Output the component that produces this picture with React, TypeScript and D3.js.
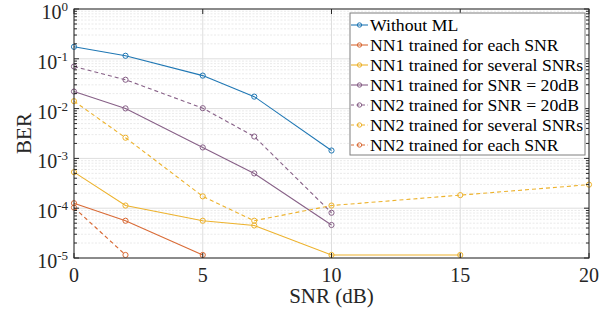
import React, { useEffect, useRef } from 'react';
import * as d3 from 'd3';

const snr = [0, 2, 5, 7, 10, 15, 20];

const withoutML = [0.174, 0.115, 0.046, 0.0174, 0.00144];
const nn1Each = [1.26e-4, 5.6e-5, 1.15e-5];
const nn1Several = [5.3e-4, 1.13e-4, 5.6e-5, 4.5e-5, 1.15e-5, 1.15e-5];
const nn1At20 = [0.022, 0.0101, 0.00166, 5.0e-4, 4.6e-5];
const nn2At20 = [0.07, 0.038, 0.0102, 0.00275, 8.1e-5];
const nn2Several = [0.0141, 0.0026, 1.73e-4, 5.6e-5, 1.13e-4, 1.83e-4, 2.97e-4];
const nn2Each = [1.03e-4, 1.15e-5];

const seriesNames = [
  'Without ML',
  'NN1 trained for each SNR',
  'NN1 trained for several SNRs',
  'NN1 trained for SNR = 20dB',
  'NN2 trained for SNR = 20dB',
  'NN2 trained for several SNRs',
  'NN2 trained for each SNR',
];
const seriesValues = [withoutML, nn1Each, nn1Several, nn1At20, nn2At20, nn2Several, nn2Each];
const seriesColors = ['#1f77b4', '#d96a35', '#edb22c', '#876087', '#876087', '#edb22c', '#d96a35'];
const seriesDashed = [false, false, false, false, true, true, true];

const xTicks = [0, 5, 10, 15, 20];
const yExps = [0, -1, -2, -3, -4, -5];

const W = 615;
const H = 313;
const FONT = "'Liberation Serif', 'Times New Roman', 'DejaVu Serif', serif";

export default function App() {
  const ref = useRef<SVGSVGElement>(null);

  useEffect(() => {
    const svg = d3.select(ref.current);
    svg.selectAll('*').remove();

    const left = 74, right = 589, top = 9, bottom = 258;
    const x = d3.scaleLinear().domain([0, 20]).range([left, right]);
    const y = d3.scaleLog().domain([1e-5, 1]).range([bottom, top]);

    svg.append('rect').attr('width', W).attr('height', H).attr('fill', '#fff');

    // minor y grid
    const minors: number[] = [];
    for (let e = -5; e < 0; e++) {
      for (let m = 2; m <= 9; m++) minors.push(m * Math.pow(10, e));
    }
    const grid = svg.append('g');
    grid.selectAll('line.minor')
      .data(minors)
      .enter()
      .append('line')
      .attr('x1', left).attr('x2', right)
      .attr('y1', d => y(d)).attr('y2', d => y(d))
      .attr('stroke', '#e4e4e4')
      .attr('stroke-width', 0.8)
      .attr('stroke-dasharray', '2,1.5');

    grid.selectAll('line.majy')
      .data(yExps)
      .enter()
      .append('line')
      .attr('x1', left).attr('x2', right)
      .attr('y1', d => y(Math.pow(10, d))).attr('y2', d => y(Math.pow(10, d)))
      .attr('stroke', '#dedede')
      .attr('stroke-width', 1);

    grid.selectAll('line.majx')
      .data(xTicks)
      .enter()
      .append('line')
      .attr('x1', d => x(d)).attr('x2', d => x(d))
      .attr('y1', top).attr('y2', bottom)
      .attr('stroke', '#dedede')
      .attr('stroke-width', 1);

    // series
    const plot = svg.append('g');
    seriesValues.forEach((vals, i) => {
      const pts = vals.map((v, j) => [snr[j], v] as [number, number]);
      const line = d3.line<[number, number]>().x(d => x(d[0])).y(d => y(d[1]));
      plot.append('path')
        .attr('d', line(pts))
        .attr('fill', 'none')
        .attr('stroke', seriesColors[i])
        .attr('stroke-width', 1.1)
        .attr('stroke-dasharray', seriesDashed[i] ? '4,3' : null);
      plot.selectAll(null)
        .data(pts)
        .enter()
        .append('circle')
        .attr('cx', d => x(d[0]))
        .attr('cy', d => y(d[1]))
        .attr('r', 2.6)
        .attr('fill', 'none')
        .attr('stroke', seriesColors[i])
        .attr('stroke-width', 1);
    });

    // axes box and ticks
    const ax = svg.append('g').attr('stroke', '#262626').attr('stroke-width', 1);
    ax.append('rect')
      .attr('x', left).attr('y', top)
      .attr('width', right - left).attr('height', bottom - top)
      .attr('fill', 'none');
    xTicks.forEach(t => {
      ax.append('line').attr('x1', x(t)).attr('x2', x(t)).attr('y1', bottom).attr('y2', bottom - 5);
      ax.append('line').attr('x1', x(t)).attr('x2', x(t)).attr('y1', top).attr('y2', top + 5);
    });
    yExps.forEach(e => {
      const yy = y(Math.pow(10, e));
      ax.append('line').attr('x1', left).attr('x2', left + 5).attr('y1', yy).attr('y2', yy);
      ax.append('line').attr('x1', right).attr('x2', right - 5).attr('y1', yy).attr('y2', yy);
    });
    minors.forEach(m => {
      const yy = y(m);
      ax.append('line').attr('x1', left).attr('x2', left + 3).attr('y1', yy).attr('y2', yy);
      ax.append('line').attr('x1', right).attr('x2', right - 3).attr('y1', yy).attr('y2', yy);
    });

    // tick labels
    const txt = svg.append('g').style('font-family', FONT).attr('fill', '#262626');
    xTicks.forEach(t => {
      txt.append('text')
        .attr('x', x(t)).attr('y', 282)
        .attr('text-anchor', 'middle')
        .style('font-size', '20px')
        .text(t);
    });
    yExps.forEach(e => {
      const yy = y(Math.pow(10, e));
      const t = txt.append('text')
        .attr('x', 68).attr('y', yy + 10)
        .attr('text-anchor', 'end')
        .style('font-size', '20px');
      t.append('tspan').text('10');
      t.append('tspan')
        .attr('dy', -8)
        .style('font-size', '13px')
        .text(String(e));
    });

    txt.append('text')
      .attr('x', (left + right) / 2).attr('y', 303)
      .attr('text-anchor', 'middle')
      .style('font-size', '21px')
      .text('SNR (dB)');
    txt.append('text')
      .attr('transform', `translate(31,${(top + bottom) / 2}) rotate(-90)`)
      .attr('text-anchor', 'middle')
      .style('font-size', '21px')
      .text('BER');

    // legend
    const lg = svg.append('g');
    lg.append('rect')
      .attr('x', 350).attr('y', 13)
      .attr('width', 235).attr('height', 142)
      .attr('fill', '#fff')
      .attr('stroke', '#7f7f7f')
      .attr('stroke-width', 1);
    seriesNames.forEach((name, i) => {
      const yy = 25 + i * 20;
      lg.append('line')
        .attr('x1', 351).attr('x2', 368)
        .attr('y1', yy).attr('y2', yy)
        .attr('stroke', seriesColors[i])
        .attr('stroke-width', 1.1)
        .attr('stroke-dasharray', seriesDashed[i] ? '3,2.5' : null);
      lg.append('circle')
        .attr('cx', 359.5).attr('cy', yy).attr('r', 2.2)
        .attr('fill', 'none')
        .attr('stroke', seriesColors[i]);
      lg.append('text')
        .attr('x', 370).attr('y', yy + 6)
        .style('font-family', FONT)
        .style('font-size', '17.7px')
        .attr('fill', '#000')
        .text(name);
    });
  }, []);

  return (
    <svg ref={ref} width={W} height={H} style={{ position: 'absolute', left: 0, top: 0 }} />
  );
}
